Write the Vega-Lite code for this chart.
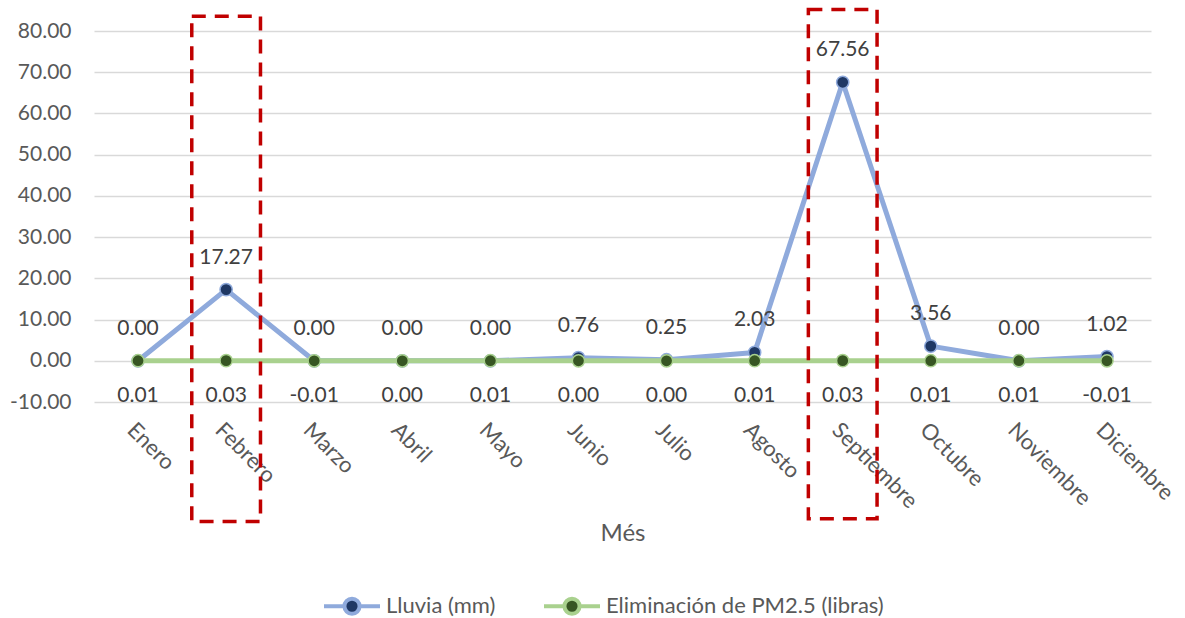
{
  "$schema": "https://vega.github.io/schema/vega-lite/v6.json",
  "autosize": {"type": "none"},
  "padding": {"left": 94, "top": 31, "right": 34, "bottom": 216},
  "width": 1057,
  "height": 371,
  "background": "white",
  "config": {
    "view": {"stroke": null},
    "font": "Lato",
    "locale": {"number": {"decimal": ".", "thousands": ",", "grouping": [3], "currency": ["$", ""], "minus": "-"}},
    "axis": {"labelFont": "Lato", "titleFont": "Lato"},
    "legend": {"labelFont": "Lato"}
  },
  "datasets": {
    "d": [
      {"mes": "Enero", "serie": "Lluvia (mm)", "valor": 0.00},
      {"mes": "Febrero", "serie": "Lluvia (mm)", "valor": 17.27},
      {"mes": "Marzo", "serie": "Lluvia (mm)", "valor": 0.00},
      {"mes": "Abril", "serie": "Lluvia (mm)", "valor": 0.00},
      {"mes": "Mayo", "serie": "Lluvia (mm)", "valor": 0.00},
      {"mes": "Junio", "serie": "Lluvia (mm)", "valor": 0.76},
      {"mes": "Julio", "serie": "Lluvia (mm)", "valor": 0.25},
      {"mes": "Agosto", "serie": "Lluvia (mm)", "valor": 2.03},
      {"mes": "Septiembre", "serie": "Lluvia (mm)", "valor": 67.56},
      {"mes": "Octubre", "serie": "Lluvia (mm)", "valor": 3.56},
      {"mes": "Noviembre", "serie": "Lluvia (mm)", "valor": 0.00},
      {"mes": "Diciembre", "serie": "Lluvia (mm)", "valor": 1.02},
      {"mes": "Enero", "serie": "Eliminación de PM2.5 (libras)", "valor": 0.01},
      {"mes": "Febrero", "serie": "Eliminación de PM2.5 (libras)", "valor": 0.03},
      {"mes": "Marzo", "serie": "Eliminación de PM2.5 (libras)", "valor": -0.01},
      {"mes": "Abril", "serie": "Eliminación de PM2.5 (libras)", "valor": 0.00},
      {"mes": "Mayo", "serie": "Eliminación de PM2.5 (libras)", "valor": 0.01},
      {"mes": "Junio", "serie": "Eliminación de PM2.5 (libras)", "valor": 0.00},
      {"mes": "Julio", "serie": "Eliminación de PM2.5 (libras)", "valor": 0.00},
      {"mes": "Agosto", "serie": "Eliminación de PM2.5 (libras)", "valor": 0.01},
      {"mes": "Septiembre", "serie": "Eliminación de PM2.5 (libras)", "valor": 0.03},
      {"mes": "Octubre", "serie": "Eliminación de PM2.5 (libras)", "valor": 0.01},
      {"mes": "Noviembre", "serie": "Eliminación de PM2.5 (libras)", "valor": 0.01},
      {"mes": "Diciembre", "serie": "Eliminación de PM2.5 (libras)", "valor": -0.01}
    ],
    "boxes": [
      {"mes": "Febrero", "arriba": 83.6, "abajo": -39.0},
      {"mes": "Septiembre", "arriba": 85.2, "abajo": -38.3}
    ]
  },
  "encoding": {
    "x": {
      "field": "mes",
      "type": "nominal",
      "sort": ["Enero", "Febrero", "Marzo", "Abril", "Mayo", "Junio", "Julio", "Agosto", "Septiembre", "Octubre", "Noviembre", "Diciembre"],
      "scale": {"type": "band", "paddingInner": 0, "paddingOuter": 0},
      "axis": {
        "title": "Més",
        "titleFontSize": 24,
        "titleFontWeight": "normal",
        "titleColor": "#595959",
        "titlePadding": 10,
        "labelAngle": 45,
        "labelFontSize": 22,
        "labelColor": "#595959",
        "labelPadding": 17,
        "domain": false,
        "ticks": false,
        "grid": false
      }
    }
  },
  "layer": [
    {
      "data": {"name": "d"},
      "transform": [{"filter": "datum.serie === 'Lluvia (mm)'"}],
      "mark": {"type": "line", "strokeWidth": 5, "strokeCap": "round", "strokeJoin": "round"},
      "encoding": {
        "y": {
          "field": "valor",
          "type": "quantitative",
          "scale": {"domain": [-10, 80], "nice": false, "zero": false},
          "axis": {
            "title": null,
            "values": [-10, 0, 10, 20, 30, 40, 50, 60, 70, 80],
            "format": ".2f",
            "labelFontSize": 21,
            "labelColor": "#595959",
            "labelPadding": 23,
            "domain": false,
            "ticks": false,
            "gridColor": "#D9D9D9",
            "gridWidth": 1.3
          }
        },
        "stroke": {
          "field": "serie",
          "type": "nominal",
          "scale": {"domain": ["Lluvia (mm)", "Eliminación de PM2.5 (libras)"], "range": ["#8FAADC", "#A9D18E"]},
          "legend": {
            "title": null,
            "orient": "none",
            "direction": "horizontal",
            "legendX": 228,
            "legendY": 545,
            "symbolSize": 3136,
            "labelFontSize": 22,
            "labelColor": "#595959",
            "labelOffset": 4,
            "labelLimit": 400,
            "columnPadding": 40,
            "encode": {
              "symbols": {
                "update": {
                  "shape": {"value": "M-1,0L-0.27,0M0.27,0L1,0M-0.27,0A0.27,0.27,0,1,1,0.27,0A0.27,0.27,0,1,1,-0.27,0Z"},
                  "size": {"value": 3136},
                  "strokeWidth": {"value": 4},
                  "stroke": {"scale": "stroke", "field": "value"},
                  "fill": {"scale": "fill", "field": "value"},
                  "opacity": {"value": 1}
                }
              }
            }
          }
        }
      }
    },
    {
      "data": {"name": "d"},
      "transform": [{"filter": "datum.serie === 'Lluvia (mm)'"}],
      "mark": {"type": "point", "filled": true, "size": 150, "strokeWidth": 1.5, "opacity": 1, "stroke": "#8FAADC"},
      "encoding": {
        "y": {"field": "valor", "type": "quantitative"},
        "fill": {
          "field": "serie",
          "type": "nominal",
          "scale": {"domain": ["Lluvia (mm)", "Eliminación de PM2.5 (libras)"], "range": ["#1F3864", "#375623"]},
          "legend": {
            "title": null,
            "orient": "none",
            "direction": "horizontal",
            "legendX": 228,
            "legendY": 545,
            "symbolSize": 3136,
            "labelFontSize": 22,
            "labelColor": "#595959",
            "labelOffset": 4,
            "labelLimit": 400,
            "columnPadding": 40,
            "encode": {
              "symbols": {
                "update": {
                  "shape": {"value": "M-1,0L-0.27,0M0.27,0L1,0M-0.27,0A0.27,0.27,0,1,1,0.27,0A0.27,0.27,0,1,1,-0.27,0Z"},
                  "size": {"value": 3136},
                  "strokeWidth": {"value": 4},
                  "stroke": {"scale": "stroke", "field": "value"},
                  "fill": {"scale": "fill", "field": "value"},
                  "opacity": {"value": 1}
                }
              }
            }
          }
        }
      }
    },
    {
      "data": {"name": "d"},
      "transform": [{"filter": "datum.serie !== 'Lluvia (mm)'"}],
      "mark": {"type": "line", "strokeWidth": 5, "strokeCap": "round", "strokeJoin": "round"},
      "encoding": {
        "y": {"field": "valor", "type": "quantitative"},
        "stroke": {"field": "serie", "type": "nominal"}
      }
    },
    {
      "data": {"name": "d"},
      "transform": [{"filter": "datum.serie !== 'Lluvia (mm)'"}],
      "mark": {"type": "point", "filled": true, "size": 150, "strokeWidth": 1.5, "opacity": 1, "stroke": "#A9D18E"},
      "encoding": {
        "y": {"field": "valor", "type": "quantitative"},
        "fill": {"field": "serie", "type": "nominal"}
      }
    },
    {
      "data": {"name": "d"},
      "transform": [{"filter": "datum.serie === 'Lluvia (mm)'"}],
      "mark": {"type": "text", "dy": -32, "baseline": "middle", "fontSize": 21, "color": "#404040"},
      "encoding": {
        "y": {"field": "valor", "type": "quantitative"},
        "text": {"field": "valor", "type": "quantitative", "format": ".2f"}
      }
    },
    {
      "data": {"name": "d"},
      "transform": [{"filter": "datum.serie !== 'Lluvia (mm)'"}],
      "mark": {"type": "text", "dy": 35, "baseline": "middle", "fontSize": 21, "color": "#404040"},
      "encoding": {
        "y": {"field": "valor", "type": "quantitative"},
        "text": {"field": "valor", "type": "quantitative", "format": ".2f"}
      }
    },
    {
      "data": {"name": "boxes"},
      "mark": {"type": "bar", "width": {"band": 0.78}, "fill": "transparent", "stroke": "#C00000", "strokeWidth": 3.5, "strokeDash": [14, 9], "clip": false},
      "encoding": {
        "y": {"field": "arriba", "type": "quantitative"},
        "y2": {"field": "abajo"}
      }
    }
  ]
}
